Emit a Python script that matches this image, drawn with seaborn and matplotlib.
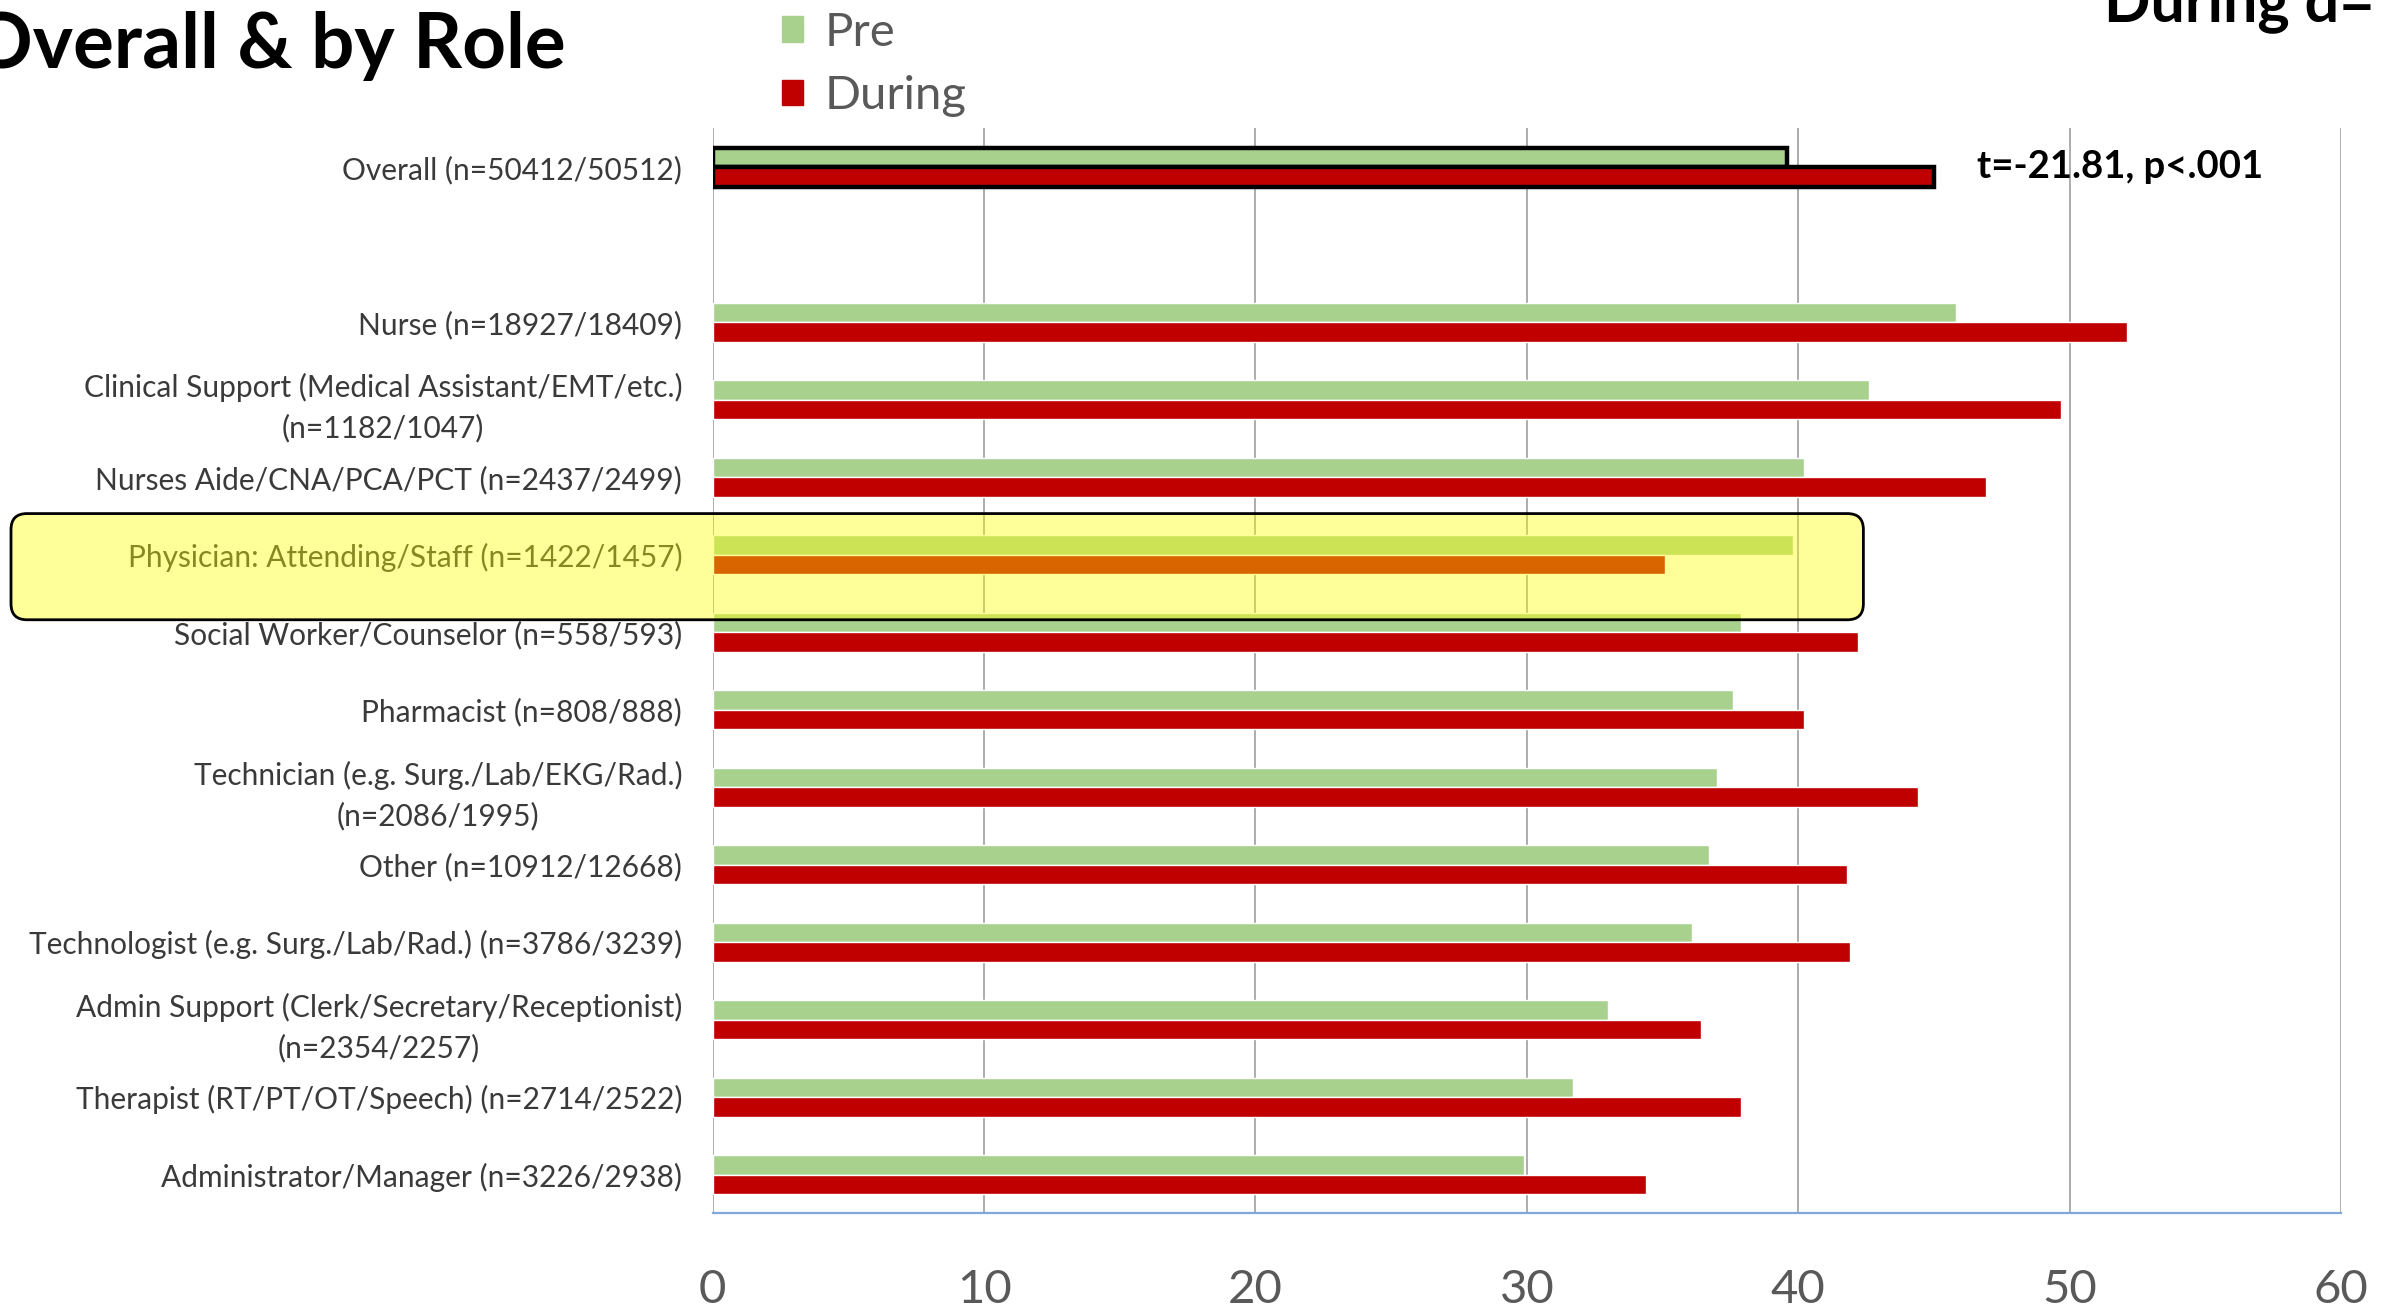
import numpy as np
import pandas as pd
import matplotlib
matplotlib.use("Agg")
import matplotlib.pyplot as plt
import seaborn as sns
from matplotlib.patches import FancyBboxPatch
from matplotlib.transforms import IdentityTransform

# Mean scores, pre-pandemic vs during, overall and by role
roles = [
    "Overall (n=50412/50512)",
    "Nurse (n=18927/18409)",
    "Clinical Support (Medical Assistant/EMT/etc.)\n(n=1182/1047)",
    "Nurses Aide/CNA/PCA/PCT (n=2437/2499)",
    "Physician: Attending/Staff (n=1422/1457)",
    "Social Worker/Counselor (n=558/593)",
    "Pharmacist (n=808/888)",
    "Technician (e.g. Surg./Lab/EKG/Rad.)\n(n=2086/1995)",
    "Other (n=10912/12668)",
    "Technologist (e.g. Surg./Lab/Rad.) (n=3786/3239)",
    "Admin Support (Clerk/Secretary/Receptionist)\n(n=2354/2257)",
    "Therapist (RT/PT/OT/Speech) (n=2714/2522)",
    "Administrator/Manager (n=3226/2938)",
]
pre_scores = [39.6, 45.8, 42.6, 40.2, 39.8, 37.9, 37.6, 37.0, 36.7, 36.1, 33.0, 31.7, 29.9]
during_scores = [45.0, 52.1, 49.7, 46.9, 35.1, 42.2, 40.2, 44.4, 41.8, 41.9, 36.4, 37.9, 34.4]
periods = ["Pre", "During"]
x_ticks = [0, 10, 20, 30, 40, 50, 60]
stat_text = "t=-21.81, p<.001"
highlight_role = "Physician: Attending/Staff (n=1422/1457)"

df = pd.DataFrame({
    "role": roles * 2,
    "period": ["Pre"] * len(roles) + ["During"] * len(roles),
    "score": pre_scores + during_scores,
})
# blank slot separating the overall row from the role rows
order = [roles[0], " "] + roles[1:]

sns.set_style("white")
plt.rcParams["font.family"] = ["Lato", "DejaVu Sans"]

W, H = 2382, 1310
fig = plt.figure(figsize=(W / 100, H / 100), dpi=100)
ax = fig.add_axes([0.2992, 0.0737, 0.6836, 0.8283])

palette = {"Pre": "#A9D18E", "During": "#C00000"}
sns.barplot(data=df, y="role", x="score", hue="period", order=order,
            hue_order=periods, palette=palette, orient="h", width=0.5,
            errorbar=None, saturation=1, ax=ax, zorder=3)

ax.set_xlim(0, 60)
ax.set_ylim(len(order) - 0.5, -0.5)
ax.set_xticks(x_ticks)
ax.set_xlabel("")
ax.set_ylabel("")

# black outline on the overall bars
for cont in ax.containers:
    for bar in cont:
        if abs(bar.get_y() + bar.get_height() / 2) < 0.45:
            bar.set_edgecolor("black")
            bar.set_linewidth(3.2)
            bar.set_zorder(4)

ax.grid(axis="x", color="#A6A6A6", linewidth=1.3, zorder=0)
ax.grid(axis="y", visible=False)
for s in ["top", "right", "left"]:
    ax.spines[s].set_visible(False)
ax.spines["bottom"].set_color("#7FA7DA")
ax.spines["bottom"].set_linewidth(1.6)

ax.tick_params(axis="x", length=0, pad=40, labelsize=34, labelcolor="#595959")
ax.tick_params(axis="y", length=0, pad=22, labelsize=21.5, labelcolor="#3A3A3A")
for lab in ax.get_yticklabels():
    lab.set_multialignment("center")
    lab.set_linespacing(1.5)

ax.text(46.6, 0, stat_text, va="center", ha="left", fontsize=27.5,
        fontweight="bold", color="black")

ax.get_legend().remove()
handles = [plt.Rectangle((0, 0), 1, 1, color=palette[p]) for p in periods]
fig.legend(handles, periods, loc="upper left", bbox_to_anchor=(782 / W, 1 - 12 / H),
           frameon=False, fontsize=34, handlelength=0.45, handleheight=0.45,
           handletextpad=0.45, labelspacing=0.45, borderpad=0, borderaxespad=0,
           labelcolor="#595959")

fig.text(-0.012, 1 - 68 / H, "Overall & by Role", fontsize=55,
         fontweight="bold", va="baseline", ha="left", color="black")
fig.text(2104 / W, 1 - 21 / H, "During d=", fontsize=44,
         fontweight="bold", va="baseline", ha="left", color="black")

# highlight box around the physician row
idx = order.index(highlight_role)
y_top = ax.transData.transform((0, idx - 0.53))[1]
y_bot = ax.transData.transform((0, idx + 0.84))[1]
x_right = ax.transData.transform((42.4, idx))[0]
x_left = 11
box = FancyBboxPatch((x_left, y_bot), x_right - x_left, y_top - y_bot,
                     boxstyle="round,pad=0,rounding_size=16",
                     transform=IdentityTransform(),
                     facecolor=(1.0, 1.0, 0.0, 0.4), edgecolor="black",
                     linewidth=2, zorder=10)
fig.add_artist(box)

fig.savefig("out.png", dpi=100, facecolor="white")
